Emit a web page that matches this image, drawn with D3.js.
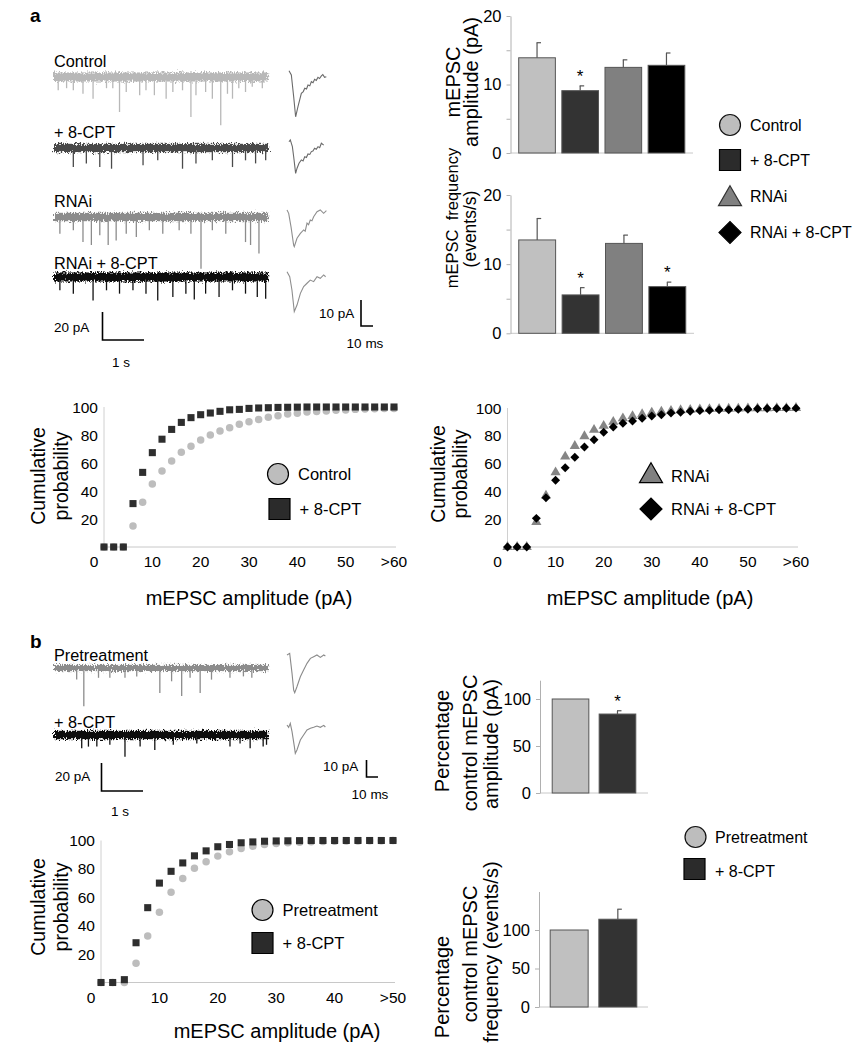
<!DOCTYPE html>
<html><head><meta charset="utf-8">
<script src="https://cdn.jsdelivr.net/npm/d3@7"></script>
<style>body{margin:0;background:#fff}</style>
</head><body>
<svg id="c" width="862" height="1050" xmlns="http://www.w3.org/2000/svg">
<defs>
<filter id="noisy" x="-3%" y="-120%" width="106%" height="340%">
<feTurbulence type="fractalNoise" baseFrequency="0.9 0.45" numOctaves="2" seed="4" result="n"/>
<feDisplacementMap in="SourceGraphic" in2="n" scale="8" xChannelSelector="R" yChannelSelector="G"/>
</filter>
</defs>
</svg>
<script>
// ---------------- DATA ----------------
const groupsA = ["Control", "+ 8-CPT", "RNAi", "RNAi + 8-CPT"];
const ampMeanA = [13.9, 9.1, 12.5, 12.8];
const ampErrTopA = [16.1, 9.8, 13.6, 14.6];
const ampStarsA = [false, true, false, false];
const freqMeanA = [13.5, 5.55, 13.0, 6.75];
const freqErrTopA = [16.6, 6.6, 14.2, 7.4];
const freqStarsA = [false, true, false, true];
const barTicksA = [0, 10, 20];
const barMinorTicksA = [5, 15];

const groupsB = ["Pretreatment", "+ 8-CPT"];
const ampPctB = [100, 84];
const ampPctErrTopB = [100, 87.5];
const ampStarsB = [false, true];
const freqPctB = [100, 114];
const freqPctErrTopB = [100, 127];
const freqStarsB = [false, false];
const barTicksB = [0, 50, 100];

const binsA = [0,2,4,6,8,10,12,14,16,18,20,22,24,26,28,30,32,34,36,38,40,42,44,46,48,50,52,54,56,58,60];
const cumControl = [0,0,0,15,32,45,54.3,61.4,67.6,72,76.4,80,82.8,85.2,87.6,89.5,91,92.6,93.8,95,95.5,96.4,96.7,97.1,97.6,97.9,98.3,98.5,98.7,99,99];
const cumCPT = [0,0,0,31,53.3,67.4,77,84,89,92.4,94.5,95.7,96.9,98,98.3,99,99.3,99.5,99.7,99.8,99.9,100,100,100,100,100,100,100,100,100,100];
const cumRNAi = [0,0,0,18,37,53.7,65,72.7,79.7,84.3,87.2,90,92.5,94.2,95.5,96.7,97.4,98,98.4,98.7,99,99.2,99.4,99.5,99.6,99.7,99.8,99.8,99.9,99.9,100];
const cumRNAiCPT = [0,0,0,20.6,35.4,48,57,64.5,72,77.2,82.5,86.3,89,90.6,92.6,94.2,95.2,96.4,97,97.7,98.1,98.3,98.8,98.8,99,99.1,99.4,99.6,99.7,99.8,99.9];
const cumTicksA = [0,10,20,30,40,50,60];
const cumTickLabelsA = ["0","10","20","30","40","50",">60"];

const binsB = [0,2,4,6,8,10,12,14,16,18,20,22,24,26,28,30,32,34,36,38,40,42,44,46,48,50];
const cumPre = [0,0,0,13.6,32.7,49.4,63.5,73.2,80.5,85,89,92,94.4,96,97.2,97.9,98.4,98.8,99.1,99.3,99.5,99.6,99.7,99.8,99.9,100];
const cumCPTB = [0,0,2,28,52.7,70,78.3,84.2,89.2,92.7,95.6,97.2,98.4,99,99.5,99.7,99.8,99.9,100,100,100,100,100,100,100,100];
const cumTicksB = [0,10,20,30,40,50];
const cumTickLabelsB = ["0","10","20","30","40",">50"];
const cumYTicks = [20,40,60,80,100];

// raw traces: event times (s) and amplitudes (pA); noise band (pA peak-to-peak)
const traceDuration = 5.1;
const evControlT = [0.1,0.3,0.46,0.69,0.93,1.25,1.4,1.56,1.72,2.04,2.19,2.39,2.67,2.83,3.06,3.26,3.38,3.61,3.77,3.97,4.13,4.25,4.4,4.56,4.72,4.96];
const evControlA = [9.5,8,9.5,12,15.5,8,8,25,10.7,13,9.5,13,15.5,10.7,9.5,28.6,13,10.7,15.5,34.5,12,15.5,8,10.7,7,8];
const evCPTT = [0.46,0.77,1.09,1.37,2.12,2.47,3.06,3.38,3.77,4.25,4.56,4.8,5.04];
const evCPTA = [13.6,11,13.6,14.8,12.4,8.8,14.8,11,8.8,13.6,8.8,11,8.8];
const evRNAiT = [0.14,0.46,0.69,0.89,1.09,1.29,1.48,1.72,1.96,2.27,2.59,2.98,3.26,3.5,3.77,4.09,4.56,4.68,4.88];
const evRNAiA = [11.9,9.5,17.9,20,13,20,16.7,11.9,14.3,9.5,11.9,9.5,11.9,36.9,9.5,11.9,17.9,20,26];
const evRNAiCPTT = [0.14,0.46,0.93,1.25,1.56,1.88,2.19,2.47,2.83,3.14,3.34,3.61,3.93,4.25,4.56,4.84,5.04];
const evRNAiCPTA = [9.5,11.9,16.7,9.5,11.9,9.5,11.9,16.7,14.3,11.9,16,11.9,14.3,9.5,11.9,14.3,15.5];
const evPreT = [0.54,0.71,1.06,1.33,1.69,1.97,2.52,2.8,3.04,3.24,3.48,3.75,4.19,4.51,4.71];
const evPreA = [8.3,27.4,7,7,7,6,17.9,9.5,20,7,17.9,8.3,7,6,7];
const evCPTBT = [0.66,0.82,1.02,1.33,1.69,2.05,2.4,2.84,3.4,4.19,4.43,4.67,4.98,5.06];
const evCPTBA = [9.5,8.3,8.3,7,15.5,8.3,10.7,7,6,8.3,6,9.5,8.3,7];
const noiseBand = [6.5, 6, 6, 6.5, 4.5, 6];

// averaged mEPSCs: time (ms), current (pA)
const avgControlT = [0,1.8,3.6,5.1,6.9,9.5,11,12.1,13.5,14.6,16,17.2,18.5,19.7,21,22.3,23.5,24.9,26,27.4,28.7];
const avgControlI = [2.4,0.8,-7.6,-15.3,-11.4,-6.3,-5.6,-4.3,-4.6,-3.1,-3.4,-1.8,-2.2,-0.9,-1.3,-0.1,-0.6,0.4,0.9,-0.1,0.1];
const avgCPTT = [0,1,2.6,3.6,5.1,6.2,7.7,9.5,10.8,12.1,13.4,14.6,16,17.2,18.4,19.7,21,22.3,23.6,24.9,26.7];
const avgCPTI = [0.5,1.2,-1.4,-5.3,-11.7,-9.7,-7.8,-6.5,-6.9,-5.3,-5.6,-4.2,-4.4,-3.3,-3.1,-2,-2.4,-1.4,-1.8,-0.1,-0.8];
const avgRNAiT = [0,1.3,3.1,5.1,5.6,7.7,10.3,12.8,14,15.4,16.6,17.9,19.2,20.5,23.1,25.6,28.2,30.3];
const avgRNAiI = [0.8,-0.5,-5.7,-12.7,-13.3,-10.1,-8.2,-6.9,-7.4,-4.3,-4.9,-3.1,-3.4,-1.8,0.1,0.8,-0.5,0.5];
const avgRNAiCPTT = [0,2.1,3.8,5.6,7.7,10.3,12.8,15.4,17.9,20.5,23.1,25.6,28.2,29.7];
const avgRNAiCPTI = [2,0.1,-5,-13.3,-10.8,-6.3,-3.7,-2.4,-1.2,-1.8,0.1,-0.5,0.8,0.1];
const avgPreT = [0,2.3,4.3,5.7,6.6,8.5,11.4,14.2,17.1,20,22.8,25.6,28.5,31.4,32.8];
const avgPreI = [0,1,-11,-21,-22.6,-19,-13,-9,-5,-2,-1,0,-1.4,0,-0.6];
const avgCPTBT = [0,1.4,2.8,4.3,6.3,7.1,8.5,11.4,14.2,17.1,20,22.8,25.6,28.5,31.4,32.8];
const avgCPTBI = [1.2,-0.2,2.2,-2.8,-11.8,-15.8,-13.8,-7.8,-4.8,-1.8,-0.8,-0.2,0.6,-0.2,1,0];

// ---------------- DRAWING ----------------
const FONT = "'Liberation Sans', Arial, Helvetica, sans-serif";
const svg = d3.select("#c");

function txt(x, y, s, size, o = {}) {
  const t = svg.append("text").attr("x", x).attr("y", y).text(s)
    .attr("font-size", size).attr("font-family", FONT).attr("fill", "#000");
  if (o.anchor) t.attr("text-anchor", o.anchor);
  if (o.weight) t.attr("font-weight", o.weight);
  if (o.rot) t.attr("transform", `rotate(-90,${x},${y})`);
  return t;
}

const colControl = "#c0c0c0", colCPT = "#333333", colRNAi = "#808080", colRNAiCPT = "#000000";

// ---- panel letters
txt(30, 22, "a", 19, { weight: "bold" });
txt(30, 648, "b", 19, { weight: "bold" });

// ---- raw traces
function rawTrace(x0, base, times, amps, band, color, xPerS, yPerPA) {
  const x = d3.scaleLinear().domain([0, traceDuration]).range([x0, x0 + traceDuration * xPerS]);
  const y = d3.scaleLinear().domain([0, -40]).range([base, base + 40 * yPerPA]);
  const g = svg.append("g");
  const h = band * yPerPA;
  g.append("rect").attr("x", x(0)).attr("width", x(traceDuration) - x(0))
    .attr("y", y(0) - h / 2).attr("height", h)
    .attr("fill", color).attr("filter", "url(#noisy)");
  g.selectAll("line.ev").data(times).join("line").attr("class", "ev")
    .attr("x1", d => x(d)).attr("x2", d => x(d))
    .attr("y1", y(0)).attr("y2", (d, i) => y(-amps[i]))
    .attr("stroke", color).attr("stroke-width", 1.3);
}
rawTrace(54, 77, evControlT, evControlA, noiseBand[0], "#b8b8b8", 42, 1.4);
rawTrace(54, 148, evCPTT, evCPTA, noiseBand[1], "#4a4a4a", 42, 1.4);
rawTrace(54, 217, evRNAiT, evRNAiA, noiseBand[2], "#8c8c8c", 42, 1.4);
rawTrace(54, 277, evRNAiCPTT, evRNAiCPTA, noiseBand[3], "#111111", 42, 1.4);
rawTrace(54, 668, evPreT, evPreA, noiseBand[4], "#8c8c8c", 42, 1.4);
rawTrace(54, 735, evCPTBT, evCPTBA, noiseBand[5], "#111111", 42, 1.4);

txt(54, 67, groupsA[0], 16.3);
txt(54, 138, groupsA[1], 16.3);
txt(54, 207, groupsA[2], 16.3);
txt(54, 269, groupsA[3], 16.3);
txt(54, 661, groupsB[0], 16.3);
txt(54, 728, groupsB[1], 16.3);

// ---- averaged mEPSCs
function avgTrace(x0, base, T, I, color, xPerMs, yPerPA) {
  const x = d3.scaleLinear().domain([0, 10]).range([x0, x0 + 10 * xPerMs]);
  const y = d3.scaleLinear().domain([0, -10]).range([base, base + 10 * yPerPA]);
  svg.append("path").datum(T.map((t, i) => [t, I[i]]))
    .attr("d", d3.line().x(d => x(d[0])).y(d => y(d[1])))
    .attr("fill", "none").attr("stroke", color).attr("stroke-width", 1.1);
}
avgTrace(289, 77, avgControlT, avgControlI, "#6a6a6a", 1.3, 2.6);
avgTrace(289, 143, avgCPTT, avgCPTI, "#6a6a6a", 1.3, 2.6);
avgTrace(287, 212, avgRNAiT, avgRNAiI, "#8e8e8e", 1.3, 2.6);
avgTrace(287, 277, avgRNAiCPTT, avgRNAiCPTI, "#8e8e8e", 1.3, 2.6);
avgTrace(287, 655, avgPreT, avgPreI, "#8a8a8a", 1.17, 1.67);
avgTrace(287, 727, avgCPTBT, avgCPTBI, "#8a8a8a", 1.17, 1.67);

// ---- scale bars
function scaleBar(x, yTop, yBot, xRight) {
  svg.append("path").attr("d", `M${x},${yTop}V${yBot}H${xRight}`)
    .attr("fill", "none").attr("stroke", "#000").attr("stroke-width", 1.6);
}
scaleBar(102.5, 312, 340, 144); txt(54, 332, "20 pA", 13.5); txt(121, 367, "1 s", 13.5, { anchor: "middle" });
scaleBar(361, 300, 326, 373); txt(319, 318, "10 pA", 13.5); txt(365, 348, "10 ms", 13.5, { anchor: "middle" });
scaleBar(101.5, 763, 791, 143); txt(55, 781, "20 pA", 13.5); txt(120, 816, "1 s", 13.5, { anchor: "middle" });
scaleBar(366.5, 760, 777, 378); txt(323, 771, "10 pA", 13.5); txt(370, 799, "10 ms", 13.5, { anchor: "middle" });

// ---- bar charts
function barChart(o) {
  const x = d3.scaleBand().domain(d3.range(o.means.length)).range([o.axisX, o.axisEnd])
    .paddingInner(o.pIn).paddingOuter(o.pOut);
  const y = d3.scaleLinear().domain([0, o.max]).range([o.y0, o.yTop]);
  const g = svg.append("g");
  g.append("line").attr("x1", o.axisX).attr("x2", o.axisEnd).attr("y1", y(0)).attr("y2", y(0))
    .attr("stroke", "#c8c8c8").attr("stroke-width", 1);
  const ax = g.append("g").attr("transform", `translate(${o.axisX},0)`)
    .call(d3.axisLeft(y).tickValues(o.ticks).tickSize(4).tickSizeOuter(0).tickPadding(5));
  ax.select(".domain").attr("stroke", "#b0b0b0");
  ax.selectAll(".tick line").attr("stroke", "#b0b0b0");
  ax.selectAll("text").attr("font-size", 16.5).attr("font-family", FONT).attr("fill", "#000");
  if (o.minor) {
    const mx = g.append("g").attr("transform", `translate(${o.axisX},0)`)
      .call(d3.axisLeft(y).tickValues(o.minor).tickSize(4).tickFormat(""));
    mx.select(".domain").remove();
    mx.selectAll(".tick line").attr("stroke", "#b0b0b0");
  }
  g.selectAll("rect.bar").data(o.means).join("rect").attr("class", "bar")
    .attr("x", (d, i) => x(i)).attr("width", x.bandwidth())
    .attr("y", d => y(d)).attr("height", d => y(0) - y(d))
    .attr("fill", (d, i) => o.colors[i]).attr("stroke", "#555").attr("stroke-width", 1);
  o.errs.forEach((e, i) => {
    if (e <= o.means[i]) return;
    const cx = x(i) + x.bandwidth() / 2;
    g.append("line").attr("x1", cx).attr("x2", cx).attr("y1", y(o.means[i])).attr("y2", y(e))
      .attr("stroke", "#555").attr("stroke-width", 1.2);
    g.append("line").attr("x1", cx - 0.5).attr("x2", cx + 4).attr("y1", y(e)).attr("y2", y(e))
      .attr("stroke", "#555").attr("stroke-width", 1.2);
  });
  o.stars.forEach((s, i) => {
    if (!s) return;
    const cx = x(i) + x.bandwidth() / 2;
    txt(cx, y(Math.max(o.errs[i], o.means[i])) - 4, "*", 17, { anchor: "middle" });
  });
  o.labels.forEach(l => txt(l[0], l[1], l[2], l[3] || 20, { anchor: "middle", rot: true }));
}

barChart({ axisX: 510.5, axisEnd: 693, y0: 153, yTop: 16, max: 20, ticks: barTicksA, minor: barMinorTicksA,
  means: ampMeanA, errs: ampErrTopA, stars: ampStarsA, colors: [colControl, colCPT, colRNAi, colRNAiCPT],
  pIn: 0.15, pOut: 0.19, labels: [[459.5, 82, "mEPSC"], [478, 82, "amplitude (pA)"]] });
barChart({ axisX: 510.5, axisEnd: 694, y0: 333.3, yTop: 195, max: 20, ticks: barTicksA, minor: barMinorTicksA,
  means: freqMeanA, errs: freqErrTopA, stars: freqStarsA, colors: [colControl, colCPT, colRNAi, colRNAiCPT],
  pIn: 0.15, pOut: 0.19, labels: [[458, 218, "mEPSC\u00a0 frequency", 16.5], [476, 229, "(events/s)", 17.5]] });
barChart({ axisX: 540, axisEnd: 648, y0: 793, yTop: 680.2, max: 120, ticks: barTicksB,
  means: ampPctB, errs: ampPctErrTopB, stars: ampStarsB, colors: [colControl, colCPT],
  pIn: 0.22, pOut: 0.26, labels: [[449, 741, "Percentage"], [476.5, 743, "control mEPSC"], [498, 744, "amplitude (pA)"]] });
barChart({ axisX: 539, axisEnd: 648, y0: 1007, yTop: 891.5, max: 150, ticks: barTicksB,
  means: freqPctB, errs: freqPctErrTopB, stars: freqStarsB, colors: [colControl, colCPT],
  pIn: 0.22, pOut: 0.23, labels: [[449, 987, "Percentage"], [476.5, 954, "control mEPSC"], [498, 952, "frequency (events/s)"]] });

// ---- legends
function legendMark(cx, cy, shape, size, fill, stroke) {
  const sym = { circle: d3.symbolCircle, square: d3.symbolSquare, triangle: d3.symbolTriangle, diamond: d3.symbolSquare }[shape];
  svg.append("path").attr("d", d3.symbol(sym, size)())
    .attr("transform", `translate(${cx},${cy})` + (shape === "diamond" ? " rotate(45)" : ""))
    .attr("fill", fill).attr("stroke", stroke).attr("stroke-width", 1.2);
}
const legC = ["#bdbdbd", "#2b2b2b", "#808080", "#000"];
legendMark(730, 125, "circle", 346, legC[0], "#111"); txt(750, 131, groupsA[0], 16);
legendMark(730, 160, "square", 441, legC[1], "#000"); txt(750, 166, groupsA[1], 16);
legendMark(730, 199, "triangle", 230, legC[2], "#333"); txt(750, 202, groupsA[2], 16);
legendMark(730, 232.5, "diamond", 242, legC[3], "#000"); txt(750, 238, groupsA[3], 16);

legendMark(695.5, 837, "circle", 346, legC[0], "#111"); txt(715, 843, groupsB[0], 16);
legendMark(694.5, 869, "square", 441, legC[1], "#000"); txt(715, 877, groupsB[1], 16);

// ---- cumulative plots
function cumChart(o) {
  const x = d3.scaleLinear().domain([0, o.xMax]).range([o.x0, o.x1]);
  const y = d3.scaleLinear().domain([0, 100]).range([o.y0, o.y1]);
  const g = svg.append("g");
  g.append("line").attr("x1", o.x0).attr("x2", o.x1 + 2).attr("y1", o.y0).attr("y2", o.y0).attr("stroke", "#c8c8c8");
  g.append("line").attr("x1", o.x0).attr("x2", o.x0).attr("y1", o.y0).attr("y2", y(100)).attr("stroke", "#d0d0d0");
  o.yTicks.forEach(t => txt(o.x0 - 6, y(t) + 5.5, String(t), 15.5, { anchor: "end" }));
  o.xTicks.forEach((t, i) => txt(x(t) + (t === 0 ? -10 : 0), o.y0 + 20, o.xLabels[i], 15.5, { anchor: "middle" }));
  o.series.forEach(s => {
    const sym = { circle: d3.symbolCircle, square: d3.symbolSquare, triangle: d3.symbolTriangle, diamond: d3.symbolSquare }[s.shape];
    g.selectAll(null).data(s.vals).join("path")
      .attr("d", d3.symbol(sym, s.size)())
      .attr("transform", (d, i) => `translate(${x(o.bins[i])},${y(d)})` + (s.shape === "diamond" ? " rotate(45)" : ""))
      .attr("fill", s.color);
  });
  txt(o.labX, o.labY, "mEPSC amplitude (pA)", 20, { anchor: "middle" });
  txt(o.yl1, o.ylc, "Cumulative", 19.5, { anchor: "middle", rot: true });
  txt(o.yl2, o.ylc, "probability", 19.5, { anchor: "middle", rot: true });
  o.legend.forEach(l => { legendMark(l[0], l[1], l[2], l[3], l[4], "#000"); txt(l[0] + 20, l[1] + 6, l[5], 16.5); });
}

cumChart({ x0: 104, x1: 394, y0: 547, y1: 407, xMax: 60, bins: binsA, xTicks: cumTicksA, xLabels: cumTickLabelsA,
  yTicks: cumYTicks, labX: 249, labY: 605, yl1: 45, yl2: 68, ylc: 476,
  series: [{ vals: cumControl, shape: "circle", size: 44, color: "#bdbdbd" },
           { vals: cumCPT, shape: "square", size: 50, color: "#2e2e2e" }],
  legend: [[278, 474, "circle", 346, legC[0], groupsA[0]], [279.5, 509, "square", 441, legC[1], groupsA[1]]] });

cumChart({ x0: 507.5, x1: 796, y0: 547, y1: 408, xMax: 60, bins: binsA, xTicks: cumTicksA, xLabels: cumTickLabelsA,
  yTicks: cumYTicks, labX: 650, labY: 605, yl1: 445, yl2: 467, ylc: 474,
  series: [{ vals: cumRNAi, shape: "triangle", size: 45, color: "#858585" },
           { vals: cumRNAiCPT, shape: "diamond", size: 40, color: "#000" }],
  legend: [[651, 476, "triangle", 230, legC[2], groupsA[2]], [651, 509, "diamond", 242, legC[3], groupsA[3]]] });

cumChart({ x0: 101, x1: 393, y0: 982.5, y1: 840.5, xMax: 50, bins: binsB, xTicks: cumTicksB, xLabels: cumTickLabelsB,
  yTicks: cumYTicks, labX: 277, labY: 1038, yl1: 45, yl2: 68, ylc: 907,
  series: [{ vals: cumPre, shape: "circle", size: 44, color: "#bdbdbd" },
           { vals: cumCPTB, shape: "square", size: 50, color: "#2e2e2e" }],
  legend: [[262.5, 910, "circle", 346, legC[0], groupsB[0]], [262.5, 943, "square", 441, legC[1], groupsB[1]]] });
</script>
</body></html>
